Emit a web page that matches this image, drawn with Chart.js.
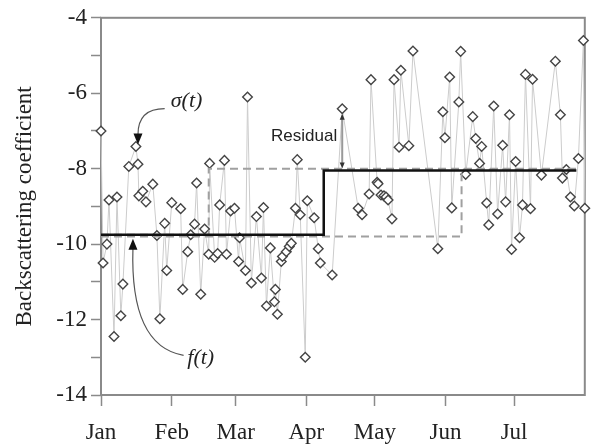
<!DOCTYPE html>
<html>
<head>
<meta charset="utf-8">
<script src="https://cdn.jsdelivr.net/npm/chart.js@4/dist/chart.umd.min.js"></script>
<style>
  html, body { margin: 0; padding: 0; background: #fff; }
  #wrap { width: 591px; height: 446px; }
</style>
</head>
<body>
<div id="wrap"><canvas id="chart" width="591" height="446"></canvas></div>
<script>
// months (day of year where each month starts)
var monthLabels = ['Jan', 'Feb', 'Mar', 'Apr', 'May', 'Jun', 'Jul'];
var monthStarts = [0, 31, 59, 90, 120, 151, 181];

// observed backscatter sigma(t): day of year / value (dB)
var obsDays = [0, 0.9, 2.6, 3.5, 5.7, 7.0, 8.7, 9.6, 12.2, 15.3, 16.2, 16.6, 18.3, 19.7, 22.7, 24.5, 25.8, 27.9, 28.8, 31.0,
  34.9, 35.8, 38.0, 39.3, 41.0, 41.9, 43.7, 45.4, 47.2, 47.6, 49.8, 51.1, 52.0, 54.1, 55.0, 56.8, 58.5, 60.3, 60.7, 63.3,
  64.2, 65.9, 68.1, 70.3, 71.2, 72.5, 74.2, 76.0, 76.4, 77.3, 79.0, 79.5, 81.2, 82.5, 83.4, 85.2, 86.0, 87.3, 89.5, 90.4,
  93.4, 95.2, 96.1, 101.3, 105.7, 112.7, 114.4, 117.5, 118.3, 121.0, 121.4, 122.7, 124.0, 124.9, 125.8, 127.5, 128.4, 130.6, 131.4, 134.9,
  136.7, 147.6, 149.8, 150.7, 152.8, 153.7, 156.8, 157.6, 159.8, 162.9, 164.2, 165.9, 166.8, 169.0, 169.9, 172.1, 173.8, 176.0, 177.3, 179.0,
  179.9, 181.7, 183.4, 184.7, 186.0, 188.2, 189.1, 193.0, 199.1, 201.3, 202.2, 203.9, 205.7, 207.4, 209.2, 211.4, 212.0];
var obsValues = [-7.0, -10.5, -10.0, -8.83, -12.45, -8.75, -11.9, -11.06, -7.94, -7.41, -7.88, -8.72, -8.6, -8.88, -8.41, -9.77, -11.98, -9.45, -10.7, -8.9,
  -9.06, -11.2, -10.2, -9.75, -9.47, -8.38, -11.33, -9.6, -10.27, -7.86, -10.35, -10.25, -8.96, -7.78, -10.27, -9.12, -9.05, -10.46, -9.83, -10.7,
  -6.1, -11.03, -9.27, -10.9, -9.03, -11.64, -10.1, -11.53, -11.2, -11.86, -10.46, -10.33, -10.2, -10.06, -9.98, -9.05, -7.76, -9.22, -13.0, -8.85,
  -9.3, -10.12, -10.5, -10.82, -6.41, -9.05, -9.22, -8.67, -5.64, -8.36, -8.4, -8.7, -8.72, -8.75, -8.83, -9.33, -5.64, -7.43, -5.39, -7.39,
  -4.88, -10.12, -6.49, -7.18, -5.57, -9.04, -6.23, -4.89, -8.15, -6.62, -7.2, -7.86, -7.41, -8.91, -9.49, -6.34, -9.2, -7.38, -8.88, -6.57,
  -10.14, -7.81, -9.83, -8.96, -5.5, -9.06, -5.63, -8.17, -5.15, -6.57, -8.25, -8.02, -8.75, -8.99, -7.73, -4.6, -9.05];

// fitted step function f(t): breakpoints (day) and levels
var fitDays = [0, 97.6, 208.3];
var fitLevels = [-9.75, -8.05, -8.05];
// dashed alternative step fits
var earlyDays = [0, 47.2, 208.3];
var earlyLevels = [-9.75, -8.0, -8.0];
var lateDays = [0, 158, 208.3];
var lateLevels = [-9.8, -8.02, -8.02];

// y ticks
var yMin = -14, yMax = -4;

function pts(xs, ys) {
  return xs.map(function (x, i) { return { x: x, y: ys[i] }; });
}

var SERIF = '"Liberation Serif", "DejaVu Serif", serif';
var SANS = '"Liberation Sans", Arial, sans-serif';
var AXIS = '#8a8a8a';

function arrowHead(ctx, tx, ty, dx, dy, w, h) {
  // tip at (tx,ty) pointing in direction (dx,dy)
  var len = Math.sqrt(dx * dx + dy * dy);
  dx /= len; dy /= len;
  var bx = tx - dx * h, by = ty - dy * h;
  ctx.beginPath();
  ctx.moveTo(tx, ty);
  ctx.lineTo(bx - dy * w / 2, by + dx * w / 2);
  ctx.lineTo(bx + dy * w / 2, by - dx * w / 2);
  ctx.closePath();
  ctx.fill();
}

var annotations = {
  id: 'annotations',
  beforeDatasetsDraw: function (chart) {
    var ctx = chart.ctx, a = chart.chartArea;
    ctx.save();
    ctx.strokeStyle = AXIS;
    ctx.lineWidth = 2;
    ctx.strokeRect(a.left, a.top, a.right - a.left, a.bottom - a.top);
    ctx.restore();
  },
  afterDatasetsDraw: function (chart) {
    var ctx = chart.ctx;
    var X = function (d) { return chart.scales.x.getPixelForValue(d); };
    var Y = function (v) { return chart.scales.y.getPixelForValue(v); };
    ctx.save();

    // sigma(t) label and curved arrow
    ctx.fillStyle = '#222';
    ctx.font = 'italic 22px ' + SERIF;
    ctx.textAlign = 'center';
    ctx.textBaseline = 'middle';
    ctx.fillText('\u03C3(t)', X(37.5), Y(-6.2));
    ctx.strokeStyle = '#555';
    ctx.lineWidth = 1.2;
    ctx.beginPath();
    ctx.moveTo(X(27.9), Y(-6.41));
    ctx.quadraticCurveTo(X(16.2), Y(-6.41), X(16.2), Y(-7.1));
    ctx.stroke();
    ctx.fillStyle = '#111';
    arrowHead(ctx, X(16.2), Y(-7.36), 0, 1, 9, 11);

    // f(t) label and curved arrow
    ctx.fillStyle = '#222';
    ctx.fillText('f(t)', X(43.7), Y(-13.03));
    ctx.beginPath();
    ctx.moveTo(X(36.2), Y(-12.95));
    ctx.quadraticCurveTo(X(12.6), Y(-12.7), X(14.0), Y(-10.1));
    ctx.stroke();
    ctx.fillStyle = '#111';
    arrowHead(ctx, X(14.0), Y(-9.86), 0, -1, 9, 11);

    // residual arrow
    var rx = X(105.7), ry1 = Y(-6.41) + 5, ry2 = Y(-8.05) - 2;
    ctx.strokeStyle = '#999';
    ctx.lineWidth = 2;
    ctx.beginPath();
    ctx.moveTo(rx, ry1 + 4);
    ctx.lineTo(rx, ry2 - 4);
    ctx.stroke();
    ctx.fillStyle = '#333';
    arrowHead(ctx, rx, ry1, 0, -1, 5, 6);
    arrowHead(ctx, rx, ry2, 0, 1, 5, 6);
    ctx.fillStyle = '#222';
    ctx.font = '17px ' + SANS;
    ctx.textAlign = 'right';
    ctx.fillText('Residual', X(103.5), Y(-7.14));
    ctx.restore();
  }
};

new Chart(document.getElementById('chart'), {
  type: 'line',
  data: {
    datasets: [
      { label: 'f(t)', data: pts(fitDays, fitLevels), stepped: 'before', borderColor: '#111', borderWidth: 2.5,
        pointRadius: 0, fill: false },
      { label: 'early', data: pts(earlyDays, earlyLevels), stepped: 'before', borderColor: '#a0a0a0', borderWidth: 2,
        borderDash: [8, 5], pointRadius: 0, fill: false },
      { label: 'late', data: pts(lateDays, lateLevels), stepped: 'before', borderColor: '#a0a0a0', borderWidth: 2,
        borderDash: [8, 5], pointRadius: 0, fill: false },
      { label: 'sigma(t)', data: pts(obsDays, obsValues), borderColor: '#cccccc', borderWidth: 1,
        pointStyle: 'rectRot', pointRadius: 4.8, pointBorderColor: '#444', pointBorderWidth: 1.4,
        pointBackgroundColor: '#fff', fill: false, tension: 0, clip: false }
    ]
  },
  options: {
    responsive: false,
    animation: false,
    events: [],
    layout: { padding: { top: 13, right: 4, left: 0, bottom: 0 } },
    plugins: { legend: { display: false }, tooltip: { enabled: false } },
    scales: {
      x: {
        type: 'linear',
        min: 0,
        max: 212,
        afterBuildTicks: function (scale) {
          scale.ticks = monthStarts.map(function (d) { return { value: d }; });
        },
        afterFit: function (scale) { scale.height = 51; },
        border: { display: false },
        grid: { drawOnChartArea: false, drawTicks: true, tickLength: 11, tickColor: AXIS, tickWidth: 1.5 },
        ticks: {
          autoSkip: false,
          maxRotation: 0,
          padding: 13,
          color: '#222',
          font: { family: SERIF, size: 23 },
          callback: function (v) { var i = monthStarts.indexOf(v); return i >= 0 ? monthLabels[i] : ''; }
        }
      },
      y: {
        min: yMin,
        max: yMax,
        afterFit: function (scale) { scale.width = 101; },
        border: { display: false },
        grid: { drawOnChartArea: false, drawTicks: true, tickLength: 10, tickColor: AXIS, tickWidth: 1.5 },
        ticks: {
          stepSize: 1,
          padding: 4,
          color: '#222',
          font: { family: SERIF, size: 23 },
          callback: function (v) { return v % 2 === 0 ? String(v) : ''; }
        },
        title: {
          display: true,
          text: 'Backscattering coefficient',
          color: '#222',
          font: { family: SERIF, size: 23 },
          padding: { top: 11, bottom: 0 }
        }
      }
    }
  },
  plugins: [annotations]
});
</script>
</body>
</html>
